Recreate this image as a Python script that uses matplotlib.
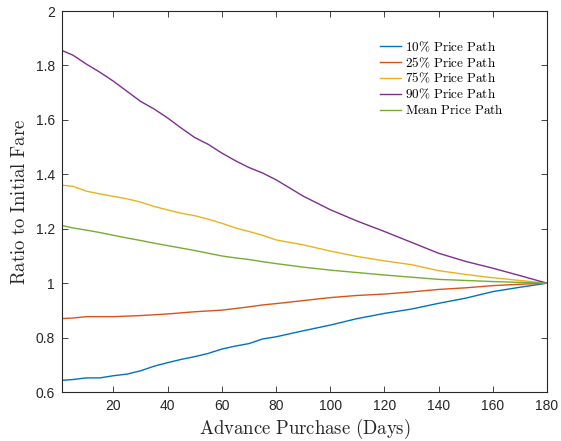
import matplotlib
matplotlib.use("Agg")
import matplotlib.pyplot as plt

# days in advance (x knots)
days = [1, 5, 10, 15, 20, 25, 30, 35, 40, 45, 50, 55, 60, 65, 70, 75,
        80, 90, 100, 110, 120, 130, 140, 150, 160, 170, 180]

p10 = [0.643, 0.646, 0.652, 0.652, 0.660, 0.666, 0.678, 0.695, 0.708, 0.720,
       0.730, 0.742, 0.758, 0.769, 0.778, 0.795, 0.803, 0.825, 0.846, 0.870,
       0.889, 0.905, 0.926, 0.945, 0.969, 0.985, 1.000]
p25 = [0.870, 0.872, 0.877, 0.877, 0.877, 0.879, 0.881, 0.884, 0.887, 0.891,
       0.895, 0.898, 0.901, 0.907, 0.913, 0.920, 0.925, 0.936, 0.947, 0.955,
       0.960, 0.968, 0.977, 0.983, 0.991, 0.996, 1.000]
p75 = [1.360, 1.356, 1.338, 1.328, 1.319, 1.310, 1.298, 1.282, 1.269, 1.257,
       1.248, 1.235, 1.220, 1.203, 1.190, 1.176, 1.159, 1.141, 1.118, 1.098,
       1.082, 1.068, 1.046, 1.032, 1.020, 1.010, 1.000]
p90 = [1.855, 1.838, 1.805, 1.775, 1.742, 1.705, 1.668, 1.640, 1.607, 1.570,
       1.535, 1.510, 1.478, 1.450, 1.425, 1.405, 1.380, 1.320, 1.270, 1.228,
       1.190, 1.150, 1.110, 1.080, 1.055, 1.028, 1.000]
pmean = [1.212, 1.203, 1.195, 1.186, 1.176, 1.166, 1.157, 1.147, 1.138, 1.129,
         1.120, 1.110, 1.100, 1.093, 1.087, 1.079, 1.072, 1.059, 1.048, 1.039,
         1.030, 1.022, 1.014, 1.010, 1.006, 1.003, 1.000]

series = [
    (p10, "10\\%", "#0072BD"),
    (p25, "25\\%", "#D95319"),
    (p75, "75\\%", "#EDB120"),
    (p90, "90\\%", "#7E2F8E"),
    (pmean, "Mean", "#77AC30"),
]

xticks = [20, 40, 60, 80, 100, 120, 140, 160, 180]
yticks = [0.6, 0.8, 1.0, 1.2, 1.4, 1.6, 1.8, 2.0]
ytick_labels = ["0.6", "0.8", "1", "1.2", "1.4", "1.6", "1.8", "2"]

plt.rcParams["mathtext.fontset"] = "cm"
plt.rcParams["font.family"] = ["Liberation Sans", "DejaVu Sans"]

fig = plt.figure(figsize=(5.61, 4.41), dpi=100)
ax = fig.add_axes([0.1105, 0.111, 0.8645, 0.864])

for vals, name, color in series:
    ax.plot(days, vals, color=color, lw=1.0,
            label=r"$\mathrm{" + name + r"\ Price\ Path}$")

ax.set_xlim(1, 180)
ax.set_ylim(0.6, 2.0)
ax.set_xticks(xticks)
ax.set_yticks(yticks)
ax.set_yticklabels(ytick_labels)
ax.tick_params(direction="in", top=True, right=True, length=4, width=0.6,
               labelsize=10, colors="#262626", pad=5)
for sp in ax.spines.values():
    sp.set_color("#262626")
    sp.set_linewidth(0.8)

ax.set_xlabel(r"$\mathrm{Advance\ Purchase\ (Days)}$", fontsize=13.5,
              color="#262626", labelpad=3)
ax.set_ylabel(r"$\mathrm{Ratio\ to\ Initial\ Fare}$", fontsize=13.5,
              color="#262626", labelpad=5)

ax.legend(loc="upper left", bbox_to_anchor=(0.655, 0.925), frameon=False,
          fontsize=9.5, handlelength=1.6, handletextpad=0.3,
          labelspacing=0.12, borderpad=0, borderaxespad=0)

fig.savefig("out.png", dpi=100)
